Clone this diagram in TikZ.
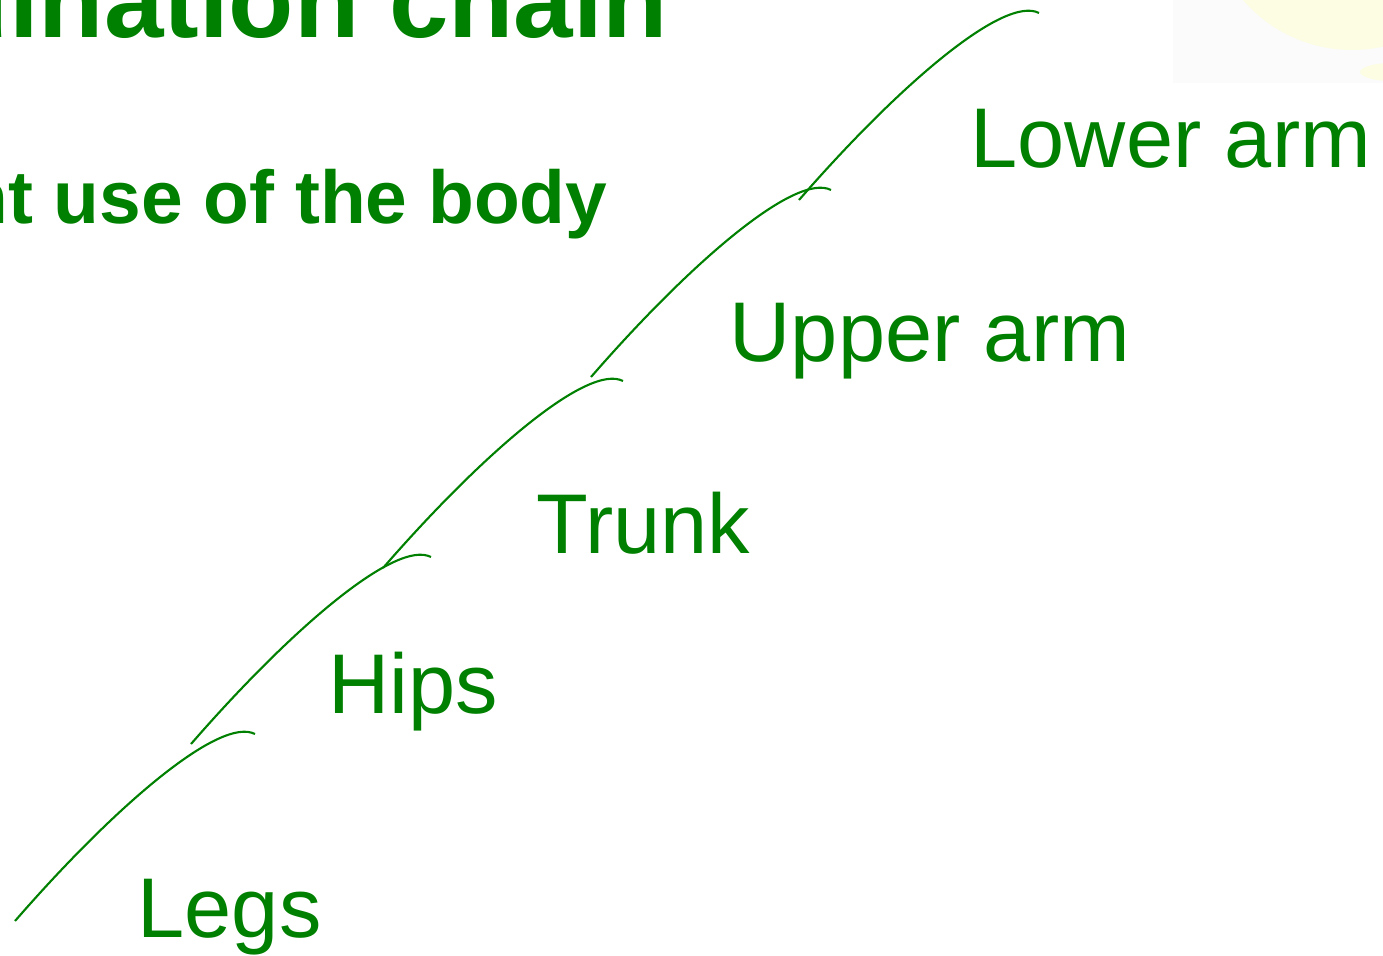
\documentclass[tikz,border=0pt]{standalone}
\usepackage{fontspec}
\setmainfont{Liberation Sans}
\usetikzlibrary{calc, positioning}
\definecolor{chainGreen}{HTML}{008000}
\definecolor{sunYellow}{HTML}{FDFDE4}
\definecolor{panelGray}{HTML}{FBFBFB}
\tikzset{
  limb/.style={chainGreen, line width=0.6pt},
  partLabel/.style={text=chainGreen, anchor=base west, inner sep=0pt,
                    font=\fontsize{24.1}{29}\selectfont},
  headLabel/.style={text=chainGreen, anchor=base east, inner sep=0pt,
                    font=\bfseries\fontsize{30.4}{36}\selectfont},
  subLabel/.style={text=chainGreen, anchor=base east, inner sep=0pt,
                   font=\bfseries\fontsize{21.3}{26}\selectfont},
}
\begin{document}
\begin{tikzpicture}[x=0.01cm, y=-0.01cm]
    \useasboundingbox (0,0) rectangle (1383,955);
    \clip (0,0) rectangle (1383,955);
    % slide decoration, top right
    \fill[panelGray] (1173,0) rectangle (1383,83);
    \fill[sunYellow] (1352,-94) circle[radius=144];
    \fill[sunYellow] (1392,72) ellipse[x radius=32, y radius=9];
    % heading (slide edge cuts it on the left)
    \node[headLabel] (title) at (669,38) {Coordination chain};
    \node[subLabel] (sub) at (608,224) {Efficient use of the body};
    % body parts
    \node[partLabel] (legs) at (137,937) {Legs};
    \node[partLabel] (hips) at (328,713) {Hips};
    \node[partLabel] (trunk) at (536,553) {Trunk};
    \node[partLabel] (upper) at (729,361) {Upper arm};
    \node[partLabel] (lower) at (970,168) {Lower arm};
    % one swing per segment
    \foreach \n/\x/\y in {legsArc/15/921, hipsArc/191/744, trunkArc/383/568,
                          upperArc/591/377, lowerArc/799/200} {
      \coordinate (\n) at (\x,\y);
      \draw[limb] (\n) .. controls ($(\n)+(100,-115)$) and ($(\n)+(205,-205)$)
                  .. ($(\n)+(240,-187)$);
    }
\end{tikzpicture}
\end{document}
